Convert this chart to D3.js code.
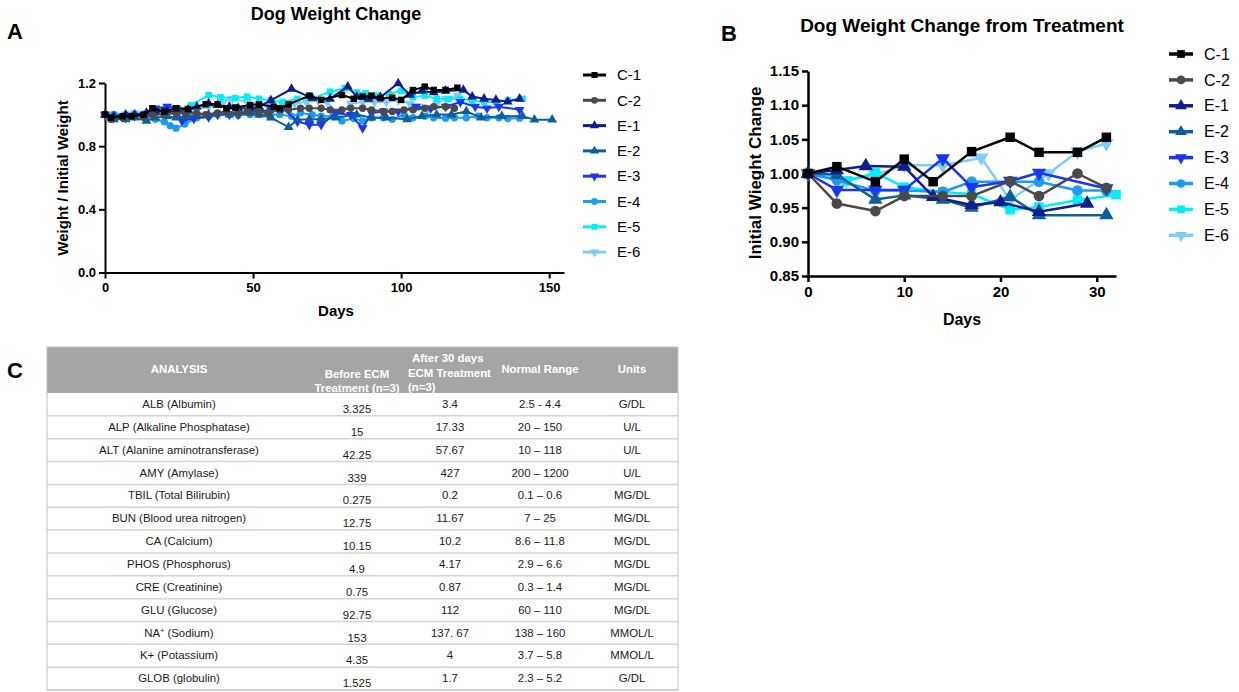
<!DOCTYPE html>
<html>
<head>
<meta charset="utf-8">
<script src="https://cdn.jsdelivr.net/npm/d3@7"></script>
<style>
  body { margin: 0; background: #fff; }
  svg { display: block; font-family: "Liberation Sans", Arial, sans-serif; }
</style>
</head>
<body>
<div class="figure"></div>
<script>
const seriesNames = ['C-1', 'C-2', 'E-1', 'E-2', 'E-3', 'E-4', 'E-5', 'E-6'];
const seriesColors = ['#000000', '#4a4a4a', '#101d8e', '#0e5e9c', '#1a36f5', '#1e9bf0', '#00eef4', '#7ecdf6'];
const seriesShapes = ['square', 'circle', 'up', 'up', 'down', 'circle', 'square', 'down'];

// Panel A: [day, weight / initial weight]
const aC1 = [[0,1.0],[2,0.98],[6,0.99],[9,0.99],[13,1.0],[16,1.04],[20,1.02],[24,1.04],[28,1.035],[34,1.065],[38,1.065],[41,1.04],[44,1.045],[49,1.06],[52,1.065],[57,1.05],[59,1.04],[62,1.065],[69,1.12],[73,1.093],[80,1.124],[84,1.1],[87,1.114],[90,1.12],[93,1.104],[97,1.107],[100,1.093],[104,1.155],[108,1.177],[111,1.156],[115,1.156],[119,1.17]];
const aC2 = [[0,1.0],[2,0.97],[6,0.98],[9,0.99],[13,0.99],[16,1.0],[20,1.0],[24,1.01],[27,1.01],[31,1.01],[34,1.0],[38,1.01],[41,1.02],[45,1.01],[48,1.02],[52,1.02],[55,1.01],[59,1.03],[62,1.03],[66,1.04],[69,1.04],[73,1.04],[76,1.03],[80,1.03],[83,1.04],[87,1.04],[90,1.03],[94,1.02],[97,1.02],[101,1.03],[104,1.03],[108,1.04],[111,1.05],[115,1.05],[118,1.04]];
const aE1 = [[0,1.0],[3,0.99],[7,1.0],[10,1.0],[14,1.01],[17,1.02],[21,1.02],[24,1.02],[28,1.03],[31,1.05],[35,1.07],[38,1.06],[42,1.05],[45,1.04],[49,1.04],[52,1.05],[56,1.09],[63,1.162],[70,1.104],[76,1.1],[82,1.177],[85,1.114],[89,1.1],[93,1.11],[99,1.198],[103,1.124],[107,1.15],[111,1.14],[115,1.15],[121,1.156],[124,1.114],[128,1.1],[132,1.093],[136,1.082],[140,1.1]];
const aE2 = [[0,1.0],[3,0.97],[7,0.97],[10,0.98],[14,0.96],[17,0.98],[21,0.99],[24,0.98],[28,0.99],[31,1.0],[35,1.0],[42,1.0],[49,1.01],[52,1.0],[56,0.98],[62,0.92],[65,0.967],[69,0.97],[73,0.97],[78,0.98],[85,1.0],[90,0.98],[95,0.98],[102,0.97],[107,0.99],[112,1.0],[117,1.0],[122,1.02],[127,0.98],[134,0.99],[141,0.99],[145,0.968],[151,0.968]];
const aE3 = [[0,1.0],[3,0.98],[7,0.98],[10,0.99],[14,1.0],[17,1.04],[21,1.05],[24,1.04],[26,0.96],[30,0.975],[35,0.985],[38,1.0],[42,1.0],[45,1.0],[49,1.02],[52,1.02],[56,1.03],[60,1.04],[65,0.956],[69,0.935],[73,0.935],[78,1.01],[83,0.998],[87,0.914],[90,1.01],[94,1.02],[99,1.02],[105,1.05],[110,1.04],[115,1.05],[120,1.08],[125,1.05],[129,1.04],[133,1.05],[140,1.03]];
const aE4 = [[0,1.0],[3,1.0],[7,0.99],[10,1.0],[14,0.99],[17,0.97],[20,0.955],[22,0.93],[24,0.914],[27,0.94],[31,0.98],[35,0.99],[38,1.0],[42,1.0],[45,0.995],[49,1.0],[52,1.0],[56,1.0],[59,1.0],[63,0.99],[66,1.01],[70,1.0],[73,0.99],[77,0.99],[80,0.96],[84,0.975],[87,0.96],[90,0.98],[94,0.98],[97,0.97],[101,1.0],[104,0.98],[108,0.99],[111,0.98],[115,0.977],[118,0.98],[122,0.98],[126,0.99],[129,0.98],[133,0.98],[136,0.975],[140,0.977]];
const aE5 = [[0,1.0],[3,1.0],[7,1.0],[10,1.0],[14,1.0],[17,1.01],[21,1.02],[25,1.03],[29,1.06],[35,1.124],[39,1.11],[44,1.104],[48,1.114],[52,1.1],[56,1.09],[60,1.08],[65,1.1],[70,1.1],[76,1.145],[81,1.167],[85,1.14],[88,1.135],[92,1.12],[96,1.13],[100,1.15],[104,1.11],[108,1.12],[112,1.1],[116,1.1],[120,1.1],[124,1.09],[128,1.08],[132,1.08],[136,1.09],[141,1.1]];
const aE6 = [[0,1.0],[3,1.0],[7,1.0],[10,1.01],[14,1.01],[17,1.02],[21,1.02],[25,1.03],[30,1.03],[35,1.05],[40,1.08],[43,1.1],[48,1.08],[52,1.06],[56,1.05],[60,1.06],[64,1.07],[68,1.08],[72,1.09],[75,1.08],[79,1.0],[83,1.07],[87,1.08],[91,1.08],[95,1.08],[99,1.09],[103,1.07],[106,1.05],[109,1.03],[112,1.07],[115,1.1],[119,1.12]];

// Panel B: [day, initial weight change]
const bC1 = [[0,1.0],[3,1.01],[7,0.988],[10,1.021],[13,0.988],[17,1.032],[21,1.053],[24,1.031],[28,1.031],[31,1.053]];
const bC2 = [[0,1.0],[3,0.956],[7,0.945],[10,0.967],[14,0.967],[17,0.967],[21,0.989],[24,0.967],[28,1.0],[31,0.979]];
const bE1 = [[0,1.0],[3,1.005],[6,1.011],[10,1.01],[13,0.966],[17,0.954],[20,0.958],[24,0.944],[29,0.956]];
const bE2 = [[0,1.0],[3,0.998],[7,0.962],[10,0.968],[14,0.962],[17,0.95],[21,0.966],[24,0.939],[31,0.939]];
const bE3 = [[0,1.0],[3,0.976],[7,0.976],[10,0.976],[14,1.022],[17,0.98],[21,0.989],[24,1.001],[31,0.978]];
const bE4 = [[0,1.0],[3,0.99],[7,0.975],[10,0.975],[14,0.973],[17,0.988],[21,0.988],[24,0.988],[28,0.975],[31,0.975]];
const bE5 = [[0,1.0],[4,0.989],[7,1.001],[10,0.98],[14,0.973],[17,0.97],[21,0.947],[24,0.951],[28,0.961],[32,0.969]];
const bE6 = [[0,1.0],[4,0.99],[7,0.998],[10,1.012],[14,1.012],[18,1.023],[21,0.961],[25,1.0],[28,1.032],[31,1.044]];

const seriesA = [aC1, aC2, aE1, aE2, aE3, aE4, aE5, aE6];
const seriesB = [bC1, bC2, bE1, bE2, bE3, bE4, bE5, bE6];

const xTicksA = [0, 50, 100, 150];
const yTicksA = [0, 0.4, 0.8, 1.2];
const xTicksB = [0, 10, 20, 30];
const yTicksB = [0.85, 0.90, 0.95, 1.00, 1.05, 1.10, 1.15];

// Panel C table
const analytes = ['ALB (Albumin)', 'ALP (Alkaline Phosphatase)', 'ALT (Alanine aminotransferase)', 'AMY (Amylase)', 'TBIL (Total Bilirubin)', 'BUN (Blood urea nitrogen)', 'CA (Calcium)', 'PHOS (Phosphorus)', 'CRE (Creatinine)', 'GLU (Glucose)', 'NA+ (Sodium)', 'K+ (Potassium)', 'GLOB (globulin)'];
const beforeVals = ['3.325', '15', '42.25', '339', '0.275', '12.75', '10.15', '4.9', '0.75', '92.75', '153', '4.35', '1.525'];
const afterVals = ['3.4', '17.33', '57.67', '427', '0.2', '11.67', '10.2', '4.17', '0.87', '112', '137. 67', '4', '1.7'];
const normalRanges = ['2.5 - 4.4', '20 \u2013 150', '10 \u2013 118', '200 \u2013 1200', '0.1 \u2013 0.6', '7 \u2013 25', '8.6 \u2013 11.8', '2.9 \u2013 6.6', '0.3 \u2013 1.4', '60 \u2013 110', '138 \u2013 160', '3.7 \u2013 5.8', '2.3 \u2013 5.2'];
const unitVals = ['G/DL', 'U/L', 'U/L', 'U/L', 'MG/DL', 'MG/DL', 'MG/DL', 'MG/DL', 'MG/DL', 'MG/DL', 'MMOL/L', 'MMOL/L', 'G/DL'];

const width = 1239, height = 692;

const svg = d3.select('.figure')
  .append('svg')
  .attr('width', width)
  .attr('height', height);

svg.append('rect').attr('width', width).attr('height', height).attr('fill', '#fff');

function markerPath(shape, size) {
  const type = shape === 'square' ? d3.symbolSquare
    : shape === 'circle' ? d3.symbolCircle
    : d3.symbolTriangle;
  return d3.symbol().type(type).size(size)();
}

function markerTransform(shape, x, y) {
  return shape === 'down' ? `translate(${x},${y}) rotate(180)` : `translate(${x},${y})`;
}

function drawPanel(opt) {
  const g = svg.append('g');

  const axisX = d3.axisBottom(opt.x).tickValues(opt.xTicks).tickFormat(d3.format('d'))
    .tickSizeInner(6).tickSizeOuter(0).tickPadding(4);
  const axisY = d3.axisLeft(opt.y).tickValues(opt.yTicks).tickFormat(d3.format(opt.yFormat))
    .tickSizeInner(6).tickSizeOuter(0).tickPadding(3);

  const gx = g.append('g')
    .attr('transform', `translate(0, ${opt.y.range()[0]})`)
    .call(axisX);
  const gy = g.append('g')
    .attr('transform', `translate(${opt.x.range()[0]}, 0)`)
    .call(axisY);

  [gx, gy].forEach(a => {
    a.select('.domain').attr('stroke', '#000').attr('stroke-width', opt.axisWidth);
    a.selectAll('.tick line').attr('stroke', '#000').attr('stroke-width', opt.axisWidth);
    a.selectAll('text')
      .attr('fill', '#000')
      .style('font-family', '"Liberation Sans", Arial, sans-serif')
      .style('font-size', opt.tickFont + 'px')
      .style('font-weight', 'bold');
  });

  const line = d3.line()
    .x(d => opt.x(d[0]))
    .y(d => opt.y(d[1]));

  // draw last series first so C-1 ends up on top
  for (let i = opt.series.length - 1; i >= 0; i--) {
    const data = opt.series[i];
    g.append('path')
      .attr('d', line(data))
      .attr('fill', 'none')
      .attr('stroke', seriesColors[i])
      .attr('stroke-width', opt.lineWidth)
      .attr('stroke-linejoin', 'round');

    g.selectAll(null)
      .data(data)
      .enter()
      .append('path')
      .attr('d', markerPath(seriesShapes[i], opt.markerSize))
      .attr('transform', d => markerTransform(seriesShapes[i], opt.x(d[0]), opt.y(d[1])))
      .attr('fill', seriesColors[i]);
  }

  // legend
  seriesNames.forEach((name, i) => {
    const ly = opt.legendY + i * opt.legendStep;
    const lg = g.append('g');
    lg.append('line')
      .attr('x1', opt.legendX).attr('x2', opt.legendX + opt.legendLen)
      .attr('y1', ly).attr('y2', ly)
      .attr('stroke', seriesColors[i])
      .attr('stroke-width', opt.lineWidth + 1);
    lg.append('path')
      .attr('d', markerPath(seriesShapes[i], opt.legendMarker))
      .attr('transform', markerTransform(seriesShapes[i], opt.legendX + opt.legendLen / 2, ly))
      .attr('fill', seriesColors[i]);
    lg.append('text')
      .attr('x', opt.legendX + opt.legendLen + opt.legendGap)
      .attr('y', ly)
      .attr('dy', '0.35em')
      .style('font-size', opt.legendFont + 'px')
      .text(name);
  });

  // titles and axis labels
  g.append('text')
    .attr('x', opt.titleX).attr('y', opt.titleY)
    .attr('text-anchor', 'middle')
    .style('font-size', opt.titleFont + 'px').style('font-weight', 'bold')
    .text(opt.title);

  g.append('text')
    .attr('x', opt.xLabelX).attr('y', opt.xLabelY)
    .attr('text-anchor', 'middle')
    .style('font-size', opt.labelFont + 'px').style('font-weight', 'bold')
    .text('Days');

  g.append('text')
    .attr('transform', `translate(${opt.yLabelX}, ${opt.yLabelY}) rotate(-90)`)
    .attr('text-anchor', 'middle')
    .style('font-size', opt.yLabelFont + 'px').style('font-weight', 'bold')
    .text(opt.yLabel);

  g.append('text')
    .attr('x', opt.letterX).attr('y', opt.letterY)
    .style('font-size', '22px').style('font-weight', 'bold')
    .text(opt.letter);
}

drawPanel({
  series: seriesA,
  x: d3.scaleLinear().domain([0, 155]).range([105, 564]),
  y: d3.scaleLinear().domain([0, 1.2]).range([272.5, 83]),
  xTicks: xTicksA, yTicks: yTicksA, yFormat: '.1f',
  axisWidth: 2, lineWidth: 2, markerSize: 42, tickFont: 13,
  legendX: 583, legendY: 75, legendStep: 25.3, legendLen: 23, legendGap: 11, legendFont: 15, legendMarker: 36,
  title: 'Dog Weight Change', titleX: 336, titleY: 20, titleFont: 18,
  xLabelX: 336, xLabelY: 316, labelFont: 15, yLabelFont: 15,
  yLabel: 'Weight / Initial Weight', yLabelX: 68, yLabelY: 178,
  letter: 'A', letterX: 7, letterY: 39
});

drawPanel({
  series: seriesB,
  x: d3.scaleLinear().domain([0, 32]).range([808, 1116]),
  y: d3.scaleLinear().domain([0.85, 1.15]).range([276, 71]),
  xTicks: xTicksB, yTicks: yTicksB, yFormat: '.2f',
  axisWidth: 2.5, lineWidth: 2.5, markerSize: 90, tickFont: 15,
  legendX: 1169, legendY: 54, legendStep: 25.9, legendLen: 24, legendGap: 11, legendFont: 16, legendMarker: 60,
  title: 'Dog Weight Change from Treatment', titleX: 962, titleY: 32, titleFont: 19,
  xLabelX: 962, xLabelY: 325, labelFont: 16, yLabelFont: 17,
  yLabel: 'Initial Wieght Change', yLabelX: 761, yLabelY: 173,
  letter: 'B', letterX: 721, letterY: 41
});

// Panel C: the table
const tableLeft = 47, tableRight = 678, headTop = 347, headBottom = 393, rowH = 22.85;
const colCenters = [179, 357, 450, 540, 632];

svg.append('text')
  .attr('x', 7).attr('y', 378)
  .style('font-size', '22px').style('font-weight', 'bold')
  .text('C');

const table = svg.append('g').style('font-size', '11.4px');

table.append('rect')
  .attr('x', tableLeft).attr('y', headTop)
  .attr('width', tableRight - tableLeft).attr('height', headBottom - headTop)
  .attr('fill', '#a5a5a5');

const headLines = [
  [{ t: 'ANALYSIS', y: 373, a: 'middle', x: colCenters[0] }],
  [{ t: 'Before ECM', y: 378, a: 'middle', x: colCenters[1] }, { t: 'Treatment (n=3)', y: 392, a: 'middle', x: colCenters[1] }],
  [{ t: 'After 30 days', y: 362, a: 'start', x: 412 }, { t: 'ECM Treatment', y: 377, a: 'start', x: 408 }, { t: '(n=3)', y: 391, a: 'start', x: 408 }],
  [{ t: 'Normal Range', y: 373, a: 'middle', x: colCenters[3] }],
  [{ t: 'Units', y: 373, a: 'middle', x: colCenters[4] }]
];

headLines.forEach(lines => lines.forEach(l => {
  table.append('text')
    .attr('x', l.x).attr('y', l.y)
    .attr('text-anchor', l.a)
    .attr('fill', '#fff')
    .style('font-weight', 'bold')
    .text(l.t);
}));

const rowScale = d3.scaleBand()
  .domain(analytes)
  .range([headBottom, headBottom + rowH * analytes.length]);

const rows = table.selectAll('g.row')
  .data(analytes)
  .enter()
  .append('g')
  .attr('class', 'row')
  .attr('transform', d => `translate(0, ${rowScale(d)})`);

rows.append('line')
  .attr('x1', tableLeft).attr('x2', tableRight)
  .attr('y1', rowH).attr('y2', rowH)
  .attr('stroke', '#d4d4d4')
  .attr('stroke-width', 1.5);

rows.each(function (name, i) {
  const r = d3.select(this);
  const nameText = r.append('text')
    .attr('x', colCenters[0]).attr('y', 15)
    .attr('text-anchor', 'middle')
    .attr('fill', '#1a1a1a');
  if (name.startsWith('NA+')) {
    nameText.append('tspan').text('NA');
    nameText.append('tspan').attr('dy', -4).style('font-size', '7px').text('+');
    nameText.append('tspan').attr('dy', 4).text(' (Sodium)');
  } else {
    nameText.text(name);
  }
  r.append('text').attr('x', colCenters[1]).attr('y', 20)
    .attr('text-anchor', 'middle').attr('fill', '#1a1a1a').text(beforeVals[i]);
  r.append('text').attr('x', colCenters[2]).attr('y', 15)
    .attr('text-anchor', 'middle').attr('fill', '#1a1a1a').text(afterVals[i]);
  r.append('text').attr('x', colCenters[3]).attr('y', 15)
    .attr('text-anchor', 'middle').attr('fill', '#1a1a1a').text(normalRanges[i]);
  r.append('text').attr('x', colCenters[4]).attr('y', 15)
    .attr('text-anchor', 'middle').attr('fill', '#1a1a1a').text(unitVals[i]);
});

table.append('rect')
  .attr('x', tableLeft).attr('y', headTop)
  .attr('width', tableRight - tableLeft).attr('height', headBottom + rowH * analytes.length - headTop)
  .attr('fill', 'none')
  .attr('stroke', '#c4c4c4')
  .attr('stroke-width', 1);
</script>
</body>
</html>
